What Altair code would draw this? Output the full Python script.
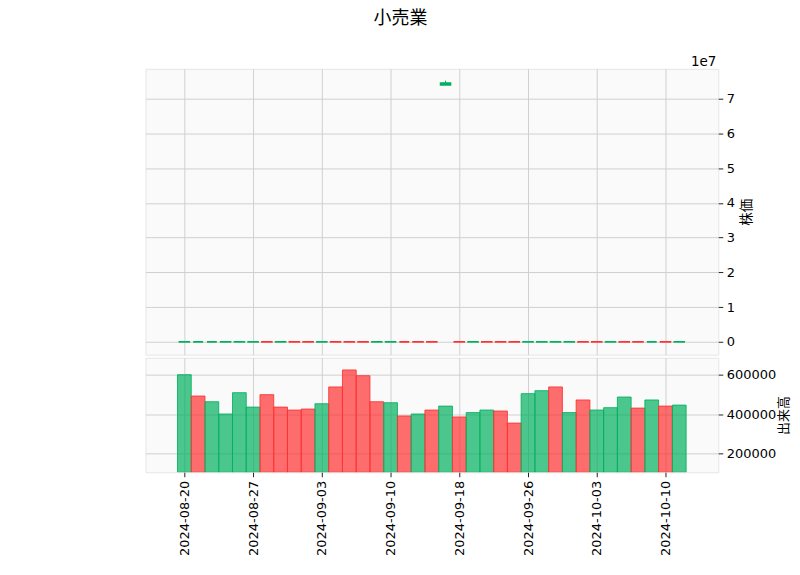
import altair as alt
import pandas as pd

# ---- data ----
dates = ["2024-08-20", "2024-08-21", "2024-08-22", "2024-08-23", "2024-08-26", "2024-08-27",
         "2024-08-28", "2024-08-29", "2024-08-30", "2024-09-02", "2024-09-03", "2024-09-04",
         "2024-09-05", "2024-09-06", "2024-09-09", "2024-09-10", "2024-09-11", "2024-09-12",
         "2024-09-13", "2024-09-17", "2024-09-18", "2024-09-19", "2024-09-20", "2024-09-24",
         "2024-09-25", "2024-09-26", "2024-09-27", "2024-09-30", "2024-10-01", "2024-10-02",
         "2024-10-03", "2024-10-04", "2024-10-07", "2024-10-08", "2024-10-09", "2024-10-10",
         "2024-10-11"]

opens = [1935, 1942, 1950, 1948, 1956, 1961, 1972, 1958, 1966, 1960, 1947, 1958, 1950,
         1940, 1922, 1930, 1945, 1938, 1930, 74000000, 1952, 1941, 1950, 1944, 1936, 1952,
         1960, 1968, 1975, 1985, 1978, 1967, 1980, 1972, 1962, 1975, 1968]
closes = [1941, 1950, 1955, 1957, 1962, 1970, 1960, 1964, 1958, 1949, 1955, 1951, 1942,
          1925, 1931, 1944, 1937, 1931, 1921, 74500000, 1943, 1949, 1945, 1937, 1930, 1959,
          1967, 1974, 1984, 1977, 1966, 1979, 1971, 1963, 1974, 1966, 1977]
highs = [1944, 1953, 1958, 1960, 1965, 1974, 1975, 1968, 1969, 1963, 1958, 1961, 1953,
         1943, 1935, 1948, 1949, 1941, 1933, 75200000, 1955, 1952, 1953, 1947, 1939, 1962,
         1970, 1977, 1987, 1989, 1981, 1982, 1983, 1975, 1977, 1978, 1980]
lows = [1931, 1939, 1946, 1945, 1952, 1958, 1956, 1954, 1955, 1945, 1943, 1948, 1938,
        1920, 1917, 1927, 1933, 1927, 1917, 74000000, 1939, 1938, 1941, 1933, 1925, 1948,
        1957, 1965, 1972, 1973, 1962, 1964, 1968, 1959, 1958, 1962, 1964]

volumes = [600000, 492000, 463000, 401000, 509000, 436000, 499000, 436000, 421000, 426000,
           453000, 538000, 624000, 595000, 463000, 458000, 391000, 401000, 421000, 441000,
           386000, 408000, 421000, 416000, 355000, 504000, 519000, 538000, 408000, 472000,
           421000, 433000, 487000, 431000, 472000, 441000, 446000]
volume_up = [1, 0, 1, 1, 1, 1, 0, 0, 0, 0, 1, 0, 0, 0, 0, 1, 0, 1, 0, 1, 0, 1, 1, 0, 0,
             1, 1, 0, 1, 0, 1, 1, 1, 0, 1, 0, 1]

title_text = "小売業"
price_label = "株価"
volume_label = "出来高"
offset_text = "1e7"

UP = "#00b060"
DOWN = "#fe3032"
FONT = "DejaVu Sans, Noto Sans CJK JP"

df = pd.DataFrame({
    "idx": list(range(len(dates))),
    "date": dates,
    "open": opens,
    "close": closes,
    "high": highs,
    "low": lows,
    "volume": volumes,
    "vup": volume_up,
})

W = 575
H_PRICE = 287
H_VOL = 115
x_domain = [-2.83, 38.84]
tick_idx = [0, 5, 10, 15, 20, 25, 30, 35]
label_expr = "[" + ",".join("'%s'" % d for d in dates) + "][datum.value]"

color_scale = alt.Scale(domain=["up", "down"], range=[UP, DOWN])

base = alt.Chart(df).transform_calculate(
    cdir="datum.close >= datum.open ? 'up' : 'down'",
    vdir="datum.vup == 1 ? 'up' : 'down'",
    cx0="datum.idx - 0.36",
    cx1="datum.idx + 0.36",
    bx0="datum.idx - 0.5",
    bx1="datum.idx + 0.5",
)

x_price = alt.X("idx:Q", scale=alt.Scale(domain=x_domain, nice=False, zero=False),
                axis=alt.Axis(values=tick_idx, labels=False, ticks=False, domain=False,
                              title=None, grid=True))

y_price_scale = alt.Scale(domain=[-3.7e6, 7.86e7], nice=False, zero=False)
y_price = alt.Y("low:Q", scale=y_price_scale,
                axis=alt.Axis(orient="right", values=[i * 1e7 for i in range(8)],
                              labelExpr="format(datum.value / 10000000, 'd')",
                              title=price_label, titleAngle=270, titleBaseline="top",
                              titlePadding=5, grid=True, domain=False))

wicks = base.mark_rule(strokeWidth=1).encode(
    x=x_price,
    y=y_price,
    y2="high:Q",
    color=alt.Color("cdir:N", scale=color_scale, legend=None),
)

bodies = base.mark_bar(strokeWidth=1.7).encode(
    x=alt.X("cx0:Q", scale=alt.Scale(domain=x_domain, nice=False, zero=False)),
    x2="cx1:Q",
    y=alt.Y("open:Q", scale=y_price_scale),
    y2="close:Q",
    color=alt.Color("cdir:N", scale=color_scale, legend=None),
    stroke=alt.Stroke("cdir:N", scale=color_scale, legend=None),
)

offset_mark = alt.Chart(pd.DataFrame({"t": [offset_text]})).mark_text(
    align="right", baseline="alphabetic", fontSize=13.5, font=FONT, color="#000000"
).encode(text="t:N", x=alt.value(W - 2), y=alt.value(-3))

title_mark = alt.Chart(pd.DataFrame({"t": [title_text]})).mark_text(
    align="center", baseline="top", fontSize=18, font="Noto Sans CJK JP", color="#000000"
).encode(text="t:N", x=alt.value(256), y=alt.value(-59))

price = alt.layer(wicks, bodies, offset_mark, title_mark).properties(width=W, height=H_PRICE)

vol = base.mark_bar(strokeWidth=1, fillOpacity=0.7, strokeOpacity=0.85, clip=True).encode(
    x=alt.X("bx0:Q", scale=alt.Scale(domain=x_domain, nice=False, zero=False),
            axis=alt.Axis(values=tick_idx, labelExpr=label_expr, labelAngle=270,
                          title=None, grid=True, domain=False, tickSize=4.5,
                          labelPadding=3.5, labelFontSize=13)),
    x2="bx1:Q",
    y=alt.Y("volume:Q", scale=alt.Scale(domain=[106000, 686000], nice=False, zero=False),
            axis=alt.Axis(orient="right", values=[200000, 400000, 600000], format="d",
                          title=volume_label, titleAngle=270, titleBaseline="top",
                          titlePadding=2, titleFontSize=13, grid=True, domain=False)),
    y2=alt.value(H_VOL),
    color=alt.Color("vdir:N", scale=color_scale, legend=None),
    stroke=alt.Stroke("vdir:N", scale=color_scale, legend=None),
).properties(width=W, height=H_VOL)

chart = alt.vconcat(price, vol, spacing=1).properties(
    padding={"left": 137, "top": 0, "right": 0, "bottom": 0},
    background="white",
).configure_view(
    fill="#fafafa", stroke="#e6e6e6", strokeWidth=1
).configure_axis(
    labelFont=FONT, titleFont=FONT, labelFontSize=13, titleFontSize=13.5,
    labelColor="#000000", titleColor="#000000", titleFontWeight="normal",
    gridColor="#d0d0d0", gridWidth=1, tickColor="#222222", tickSize=4.5,
    labelPadding=3.5,
)

chart.save("out.html", embed_options={"renderer": "svg", "actions": False})
